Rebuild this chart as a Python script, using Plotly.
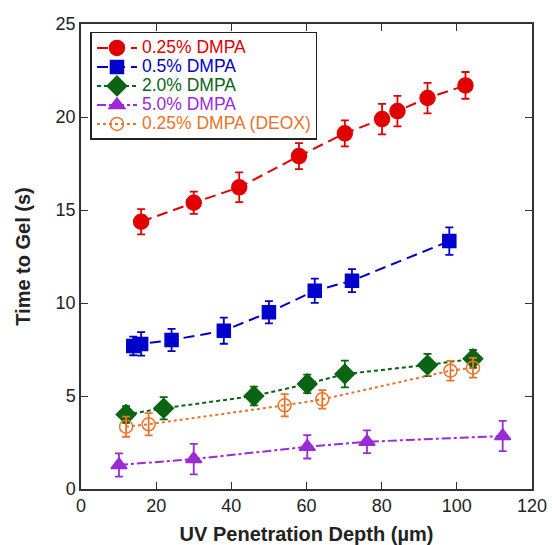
import plotly.graph_objects as go

# ---- data ----
names = ["0.25% DMPA", "0.5% DMPA", "2.0% DMPA", "5.0% DMPA", "0.25% DMPA (DEOX)"]

x_025 = [16.0, 30.0, 42.1, 58.0, 70.2, 80.1, 84.2, 92.2, 102.3]
y_025 = [14.37, 15.39, 16.22, 17.9, 19.12, 19.89, 20.32, 21.02, 21.7]
e_025 = [0.68, 0.6, 0.8, 0.7, 0.7, 0.82, 0.82, 0.82, 0.72]

x_05 = [13.9, 16.0, 24.1, 38.0, 50.0, 62.2, 72.1, 98.0]
y_05 = [7.69, 7.8, 8.01, 8.51, 9.5, 10.66, 11.2, 13.33]
e_05 = [0.5, 0.63, 0.6, 0.7, 0.6, 0.65, 0.62, 0.74]

x_20 = [12.0, 22.0, 46.0, 60.2, 70.2, 92.2, 104.3]
y_20 = [4.01, 4.34, 5.0, 5.65, 6.18, 6.67, 7.0]
e_20 = [0.45, 0.6, 0.5, 0.5, 0.72, 0.6, 0.48]

x_50 = [10.1, 30.0, 60.2, 76.1, 112.2]
y_50 = [1.29, 1.61, 2.27, 2.54, 2.85]
e_50 = [0.62, 0.82, 0.63, 0.61, 0.81]

x_deox = [12.0, 18.0, 54.2, 64.2, 98.3, 104.3]
y_deox = [3.35, 3.48, 4.5, 4.82, 6.36, 6.52]
e_deox = [0.54, 0.6, 0.6, 0.5, 0.53, 0.53]

colors = ["#e00000", "#0000cc", "#0a6414", "#9a2bd6", "#e8742a"]
symbols = ["circle", "square", "diamond", "triangle-up", "circle-open"]
dashes = ["11px,6px", "11px,6px", "4px,3px", "dashdot", "dot"]
sizes = [15, 13, 15, 14, 13]

series = [(x_025, y_025, e_025), (x_05, y_05, e_05), (x_20, y_20, e_20),
          (x_50, y_50, e_50), (x_deox, y_deox, e_deox)]

FONT = "Liberation Sans, Arial, sans-serif"

fig = go.Figure()
for i, (xs, ys, es) in enumerate(series):
    fig.add_trace(go.Scatter(
        x=xs, y=ys, mode="lines+markers",
        name=f"<span style='color:{colors[i]};font-size:17.5px'>{names[i]}</span>",
        line=dict(color=colors[i], width=2, dash=dashes[i]),
        marker=dict(symbol=symbols[i], size=sizes[i], color=colors[i],
                    line=dict(color=colors[i], width=1.5)),
        error_y=dict(type="data", array=es, visible=True, color=colors[i],
                     thickness=1.8, width=4),
    ))

axis_common = dict(
    showline=True, linecolor="#333333", linewidth=1.5, mirror="ticks",
    ticks="inside", ticklen=7, tickwidth=1.2, tickcolor="#333333",
    showgrid=False, zeroline=False, automargin=False,
    tickfont=dict(family=FONT, size=18, color="#222222"),
)

fig.update_layout(
    width=552, height=545,
    margin=dict(l=80.5, r=20, t=24, b=56),
    plot_bgcolor="white", paper_bgcolor="white",
    showlegend=True,
    legend=dict(x=0.021, y=0.983, xanchor="left", yanchor="top",
                bordercolor="#222222", borderwidth=1.5, bgcolor="white",
                font=dict(family=FONT, size=12.3),
                tracegroupgap=0, itemwidth=40),
    xaxis=dict(range=[0, 120], dtick=20,
               title=dict(text="<b>UV Penetration Depth (µm)</b>", standoff=12,
                          font=dict(family=FONT, size=20, color="#222222")),
               **axis_common),
    yaxis=dict(range=[0, 25], dtick=5,
               title=dict(text="<b>Time to Gel (s)</b>", standoff=20,
                          font=dict(family=FONT, size=20, color="#222222")),
               **axis_common),
)

fig.write_html("out.html", config={"displayModeBar": False},
               post_script="document.body.style.margin='0';document.body.style.overflow='hidden';")
